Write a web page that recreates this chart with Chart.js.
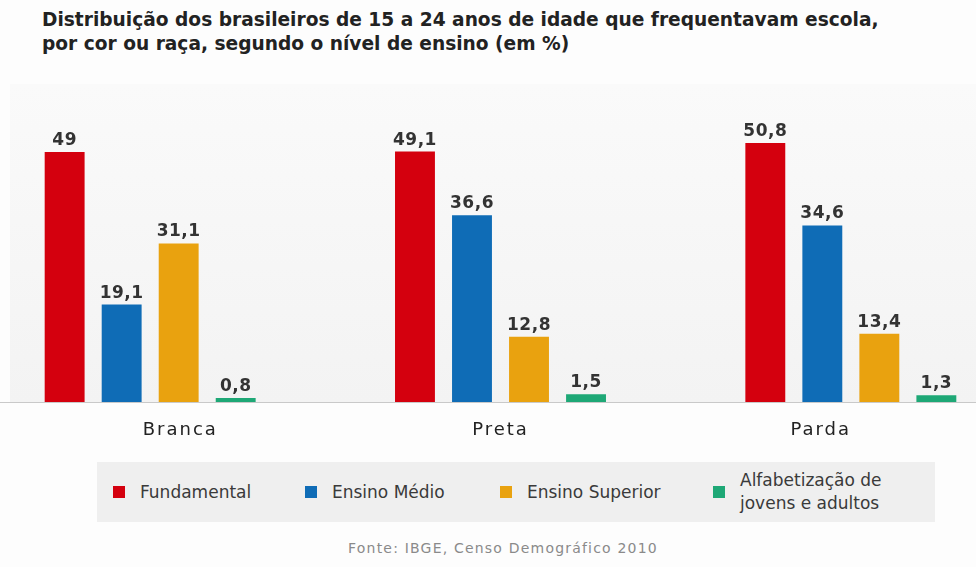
<!DOCTYPE html>
<html lang="pt-BR">
<head>
<meta charset="utf-8">
<title>Frequência escolar por cor ou raça</title>
<script src="https://cdn.jsdelivr.net/npm/chart.js@4.4.1/dist/chart.umd.min.js"></script>
<style>
  html, body {
    margin: 0;
    padding: 0;
    width: 976px;
    height: 567px;
    overflow: hidden;
    background: #fdfdfd;
    font-family: "DejaVu Sans", sans-serif;
  }
  .title {
    position: absolute;
    left: 42px;
    top: 8px;
    font-size: 18.6px;
    font-weight: bold;
    line-height: 24px;
    color: #222;
    white-space: nowrap;
  }
  .panel {
    position: absolute;
    left: 10px;
    top: 84px;
    width: 966px;
    height: 318px;
    background: linear-gradient(#fafafa, #f3f3f3);
  }
  .chart-box {
    position: absolute;
    left: -25px;
    top: 0;
    width: 1051px;
    height: 460px;
  }
  .legend {
    position: absolute;
    left: 97px;
    top: 462px;
    width: 838px;
    height: 60px;
    background: #efefef;
  }
  .legend .item {
    position: absolute;
    top: 0;
    height: 60px;
    display: flex;
    align-items: center;
    font-size: 17px;
    line-height: 23px;
    color: #3a3a3a;
    white-space: nowrap;
  }
  .legend .sw {
    width: 12px;
    height: 12px;
    margin-right: 15px;
    flex: none;
  }
  .source {
    position: absolute;
    left: 30px;
    width: 946px;
    top: 540px;
    text-align: center;
    font-size: 14px;
    letter-spacing: 1.2px;
    color: #8a8a8a;
  }
</style>
</head>
<body>
<div class="title">Distribuição dos brasileiros de 15 a 24 anos de idade que frequentavam escola,<br>por cor ou raça, segundo o nível de ensino (em %)</div>
<div class="panel"></div>
<div class="chart-box"><canvas id="barChart"></canvas></div>
<div class="legend" id="legend"></div>
<div class="source">Fonte: IBGE, Censo Demográfico 2010</div>

<script>
const categories = ["Branca", "Preta", "Parda"];

const seriesNames = ["Fundamental", "Ensino Médio", "Ensino Superior", "Alfabetização de jovens e adultos"];
const fundamental = [49, 49.1, 50.8];
const ensinoMedio = [19.1, 36.6, 34.6];
const ensinoSuperior = [31.1, 12.8, 13.4];
const alfabetizacao = [0.8, 1.5, 1.3];

const colors = ["#d4000e", "#0f6cb6", "#e9a20f", "#1ea876"];

// legend built by hand so the last entry can wrap onto two lines
const legendItems = [
  { label: "Fundamental", left: 16 },
  { label: "Ensino Médio", left: 208 },
  { label: "Ensino Superior", left: 403 },
  { label: "Alfabetização de<br>jovens e adultos", left: 616 },
];
const legendEl = document.getElementById("legend");
legendItems.forEach((it, i) => {
  const d = document.createElement("div");
  d.className = "item";
  d.style.left = it.left + "px";
  d.innerHTML = '<span class="sw" style="background:' + colors[i] + '"></span><span>' + it.label + "</span>";
  legendEl.appendChild(d);
});

// category names: wider tracking, and pulled a little towards the middle
const LABEL_SPREAD = 0.914;
const categoryTicks = {
  id: "categoryTicks",
  beforeDraw(chart) {
    chart.ctx.letterSpacing = "2px";
    const area = chart.chartArea;
    const cx = (area.left + area.right) / 2;
    chart.scales.x.getLabelItems(area).forEach((item) => {
      if (item._spread) return;
      const t = item.options.translation;
      t[0] = cx + (t[0] - cx) * LABEL_SPREAD;
      item._spread = true;
    });
  },
};

// value written above every bar, decimal comma
const valueLabels = {
  id: "valueLabels",
  afterDatasetsDraw(chart) {
    const ctx = chart.ctx;
    ctx.save();
    ctx.letterSpacing = "0.5px";
    ctx.font = "bold 17px 'DejaVu Sans', sans-serif";
    ctx.fillStyle = "#333";
    ctx.textAlign = "center";
    ctx.textBaseline = "bottom";
    chart.data.datasets.forEach((ds, i) => {
      chart.getDatasetMeta(i).data.forEach((bar, j) => {
        const txt = String(ds.data[j]).replace(".", ",");
        ctx.fillText(txt, bar.x, bar.y - 3);
      });
    });
    ctx.restore();
  },
};

const series = [fundamental, ensinoMedio, ensinoSuperior, alfabetizacao];

const data = {
  labels: categories,
  datasets: series.map((values, i) => ({
    label: seriesNames[i],
    data: values,
    backgroundColor: colors[i],
    categoryPercentage: 0.651,
    barPercentage: 0.7,
  })),
};

const config = {
  type: "bar",
  data: data,
  plugins: [categoryTicks, valueLabels],
  options: {
    responsive: true,
    maintainAspectRatio: false,
    animation: false,
    layout: { padding: { top: 96, left: 0, right: 0, bottom: 0 } },
    plugins: {
      legend: { display: false },
      tooltip: { enabled: false },
    },
    scales: {
      y: {
        display: false,
        min: 0,
        max: 60,
      },
      x: {
        grid: { display: false, drawTicks: false },
        border: { color: "#c9c9c9", width: 1 },
        ticks: {
          color: "#222",
          padding: 18,
          font: { family: "'DejaVu Sans', sans-serif", size: 18 },
        },
        afterFit(scale) {
          scale.height = 58;
        },
      },
    },
  },
};

new Chart(document.getElementById("barChart"), config);
</script>
</body>
</html>
